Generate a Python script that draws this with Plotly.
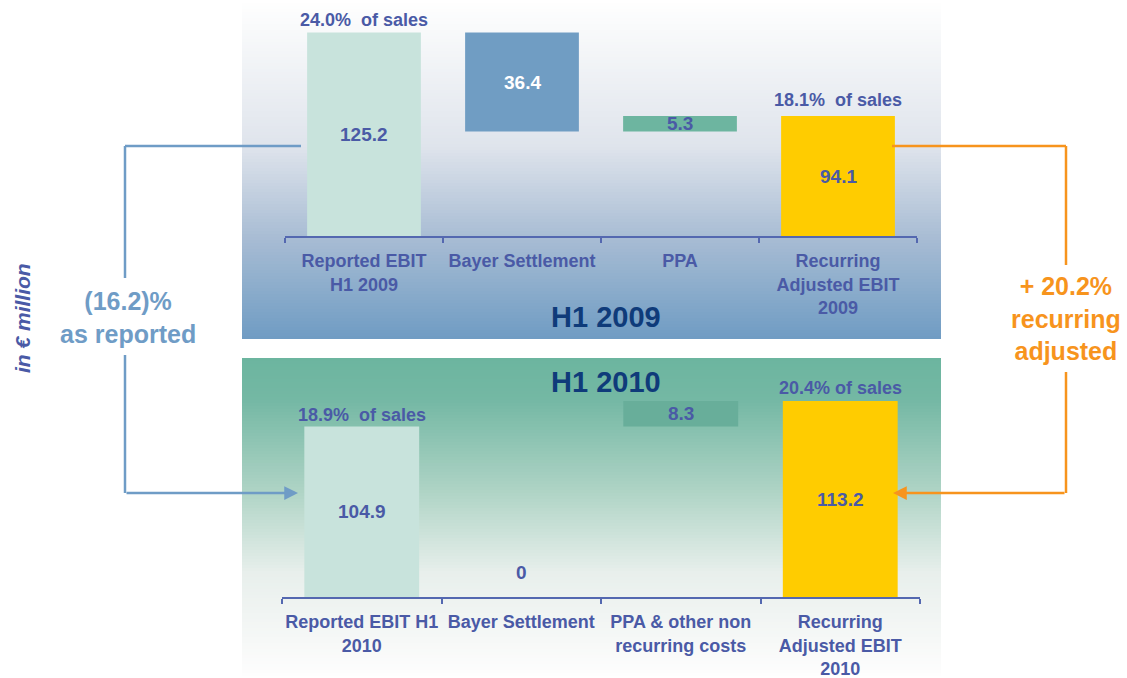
import plotly.graph_objects as go

# ---------------- data ----------------
cats_2009 = ["Reported EBIT<br>H1 2009", "Bayer Settlement", "PPA",
             "Recurring<br>Adjusted EBIT<br>2009"]
values_2009 = [125.2, 36.4, 5.3, 94.1]
# bar extents as drawn on the slide (schematic waterfall)
bar_low_2009 = [0, 64.3, 64.3, 0]
bar_high_2009 = [125.2, 125.2, 73.8, 73.8]
pct_2009 = ["24.0%\u00a0 of sales", None, None, "18.1%\u00a0 of sales"]

cats_2010 = ["Reported EBIT H1<br>2010", "Bayer Settlement",
             "PPA & other non<br>recurring costs",
             "Recurring<br>Adjusted EBIT<br>2010"]
values_2010 = [104.9, 0, 8.3, 113.2]
bar_low_2010 = [0, 0, 104.9, 0]
bar_high_2010 = [104.9, 0, 120.6, 120.6]
pct_2010 = ["18.9%\u00a0 of sales", None, None, "20.4% of sales"]

reported_change = "(16.2)%<br>as reported"
recurring_change = "+ 20.2%<br>recurring<br>adjusted"

# ---------------- style ----------------
W, H = 1127, 678
FONT = "Liberation Sans, Arial, sans-serif"
TXT = "#4a5aa6"
NAVY = "#0f3b7a"
BLUE_L = "#6f9cc6"
ORANGE = "#f7941d"
colors_2009 = ["#c8e3dc", "#709dc3", "#6db5a0", "#ffcc00"]
colors_2010 = ["#c8e3dc", "#709dc3", "#68ae9a", "#ffcc00"]
text_col_2009 = [TXT, "#ffffff", TXT, TXT]
text_col_2010 = [TXT, TXT, TXT, TXT]
pct_yshift_2009 = [1, 0, 0, 4]
pct_yshift_2010 = [0, 0, 0, 1]


def fx(p):
    return p / W


def fy(p):
    return 1 - p / H


def hex2rgb(h):
    h = h.lstrip("#")
    return tuple(int(h[i:i + 2], 16) for i in (0, 2, 4))


def grad(stops, p):
    for (p0, c0), (p1, c1) in zip(stops, stops[1:]):
        if p0 <= p <= p1:
            t = (p - p0) / (p1 - p0) if p1 > p0 else 0
            a, b = hex2rgb(c0), hex2rgb(c1)
            return "rgb(%d,%d,%d)" % tuple(round(a[i] + (b[i] - a[i]) * t) for i in range(3))
    return stops[-1][1] if p > stops[-1][0] else stops[0][1]


shapes = []
top_stops = [(0, "#ffffff"), (27, "#f9fafb"), (146, "#dfe4ec"), (236, "#a9bdd4"), (339, "#6f9cc3")]
bot_stops = [(358, "#6cb59f"), (400, "#74b8a4"), (493, "#b0d4c6"), (573, "#e8efec"),
             (640, "#f6f8f7"), (673, "#fdfdfd"), (678, "#ffffff")]
step = 3
# each strip runs to the panel's end; later strips overlay earlier ones (no seams)
for y0 in range(0, 339, step):
    shapes.append(dict(type="rect", xref="paper", yref="paper", layer="below",
                       x0=fx(242), x1=fx(941), y0=fy(339), y1=fy(y0),
                       fillcolor=grad(top_stops, y0 + step / 2), line=dict(width=0)))
for y0 in range(358, 678, step):
    shapes.append(dict(type="rect", xref="paper", yref="paper", layer="below",
                       x0=fx(242), x1=fx(941), y0=fy(678), y1=fy(y0),
                       fillcolor=grad(bot_stops, y0 + step / 2), line=dict(width=0)))


def seg(x0, y0, x1, y1, color):
    shapes.append(dict(type="line", xref="paper", yref="paper", layer="above",
                       x0=fx(x0), y0=fy(y0), x1=fx(x1), y1=fy(y1),
                       line=dict(color=color, width=2.5)))


# brackets
seg(301, 146, 125, 146, BLUE_L)
seg(125, 146, 125, 278, BLUE_L)
seg(125, 355, 125, 493, BLUE_L)
seg(892, 146, 1066, 146, ORANGE)
seg(1066, 146, 1066, 265, ORANGE)
seg(1066, 372, 1066, 493, ORANGE)

fig = go.Figure()
fig.add_trace(go.Bar(x=cats_2009, y=[h - l for h, l in zip(bar_high_2009, bar_low_2009)],
                     base=bar_low_2009, marker=dict(color=colors_2009, line=dict(width=0)),
                     xaxis="x", yaxis="y", hoverinfo="skip", showlegend=False))
fig.add_trace(go.Bar(x=cats_2010, y=[h - l for h, l in zip(bar_high_2010, bar_low_2010)],
                     base=bar_low_2010, marker=dict(color=colors_2010, line=dict(width=0)),
                     xaxis="x2", yaxis="y2", hoverinfo="skip", showlegend=False))

ann = []
for (cats, vals, lo, hi, pcts, tcols, shifts, xr, yr_) in [
        (cats_2009, values_2009, bar_low_2009, bar_high_2009, pct_2009, text_col_2009,
         pct_yshift_2009, "x", "y"),
        (cats_2010, values_2010, bar_low_2010, bar_high_2010, pct_2010, text_col_2010,
         pct_yshift_2010, "x2", "y2")]:
    for c, v, l, h, p, tc, ys in zip(cats, vals, lo, hi, pcts, tcols, shifts):
        if h - l > 0:
            ann.append(dict(x=c, y=(l + h) / 2, xref=xr, yref=yr_, text=f"{v:g}", showarrow=False,
                            xanchor="center", yanchor="middle",
                            font=dict(size=19, color=tc, family=FONT, weight="bold")))
        else:
            ann.append(dict(x=c, y=h, xref=xr, yref=yr_, text=f"{v:g}", showarrow=False,
                            xanchor="center", yanchor="bottom", yshift=12,
                            font=dict(size=19, color=tc, family=FONT, weight="bold")))
        if p:
            ann.append(dict(x=c, y=h, xref=xr, yref=yr_, text=p, showarrow=False,
                            xanchor="center", yanchor="bottom", yshift=ys,
                            font=dict(size=18, color=TXT, family=FONT, weight="bold")))


def label(px, py, text, size, color, **kw):
    ann.append(dict(x=fx(px), y=fy(py), xref="paper", yref="paper", text=text,
                    showarrow=False, xanchor="center", yanchor="middle",
                    font=dict(size=size, color=color, family=FONT, weight="bold",
                              style=kw.pop("style", "normal")), **kw))


label(606, 317, "H1 2009", 29, NAVY)
label(606, 382, "H1 2010", 29, NAVY)
label(128, 317, reported_change, 25, BLUE_L)
label(1066, 318, recurring_change, 25, ORANGE)
label(22, 318, "in € million", 21, TXT, textangle=-90, style="italic")

# arrow heads
ann.append(dict(x=fx(298), y=fy(493), xref="paper", yref="paper", text="", showarrow=True,
                ax=-173, ay=0, arrowhead=2, arrowsize=1.1, arrowwidth=2.5, arrowcolor=BLUE_L))
ann.append(dict(x=fx(893), y=fy(493), xref="paper", yref="paper", text="", showarrow=True,
                ax=173, ay=0, arrowhead=2, arrowsize=1.1, arrowwidth=2.5, arrowcolor=ORANGE))

axis_common = dict(type="category", showline=True, linecolor="#5468b0", linewidth=1.5,
                   ticks="outside", tickson="boundaries", ticklen=5, tickcolor="#5468b0",
                   tickwidth=1.5, showgrid=False, zeroline=False, range=[-0.5, 3.5],
                   tickangle=0, automargin=False,
                   tickfont=dict(size=18, color=TXT, family=FONT, weight="bold"),
                   ticklabelstandoff=8, fixedrange=True)
yr = 220 / 1.625

fig.update_layout(
    width=W, height=H, autosize=False,
    margin=dict(l=0, r=0, t=0, b=0, autoexpand=False),
    paper_bgcolor="#ffffff", plot_bgcolor="rgba(0,0,0,0)",
    bargap=0.28, showlegend=False,
    font=dict(family=FONT),
    xaxis=dict(domain=[fx(285), fx(917)], anchor="y", **axis_common),
    yaxis=dict(domain=[fy(236), fy(16)], range=[0, yr], visible=False, fixedrange=True,
               automargin=False),
    xaxis2=dict(domain=[fx(282), fx(920)], anchor="y2", **axis_common),
    yaxis2=dict(domain=[fy(597), fy(377)], range=[0, yr], visible=False, fixedrange=True,
                automargin=False),
    shapes=shapes, annotations=ann,
)

fig.write_html("out.html", config={"displayModeBar": False},
               post_script="document.body.style.margin='0';document.body.style.overflow='hidden';")
